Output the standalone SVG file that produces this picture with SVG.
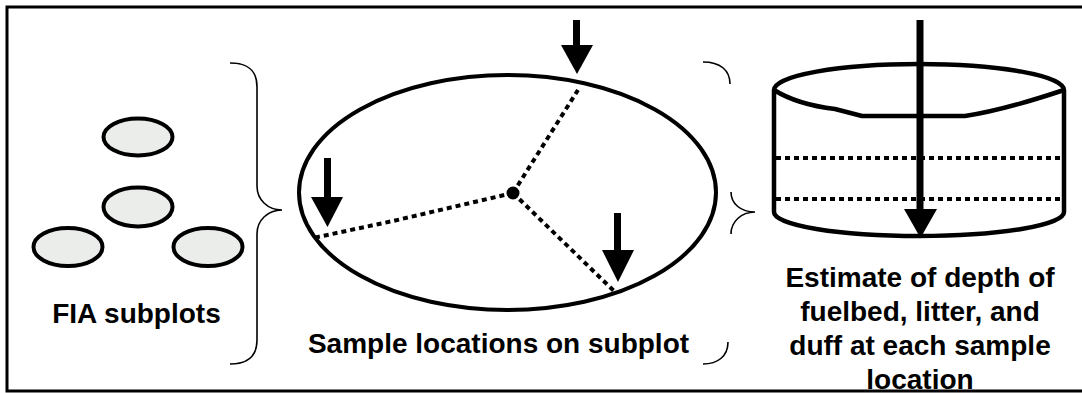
<svg xmlns="http://www.w3.org/2000/svg" width="1082" height="393" viewBox="0 0 1082 393">
<defs>
<style>
.frame{fill:none;stroke:#000;stroke-width:3}
.sub{fill:#EBEDEB;stroke:#000;stroke-width:4}
.big{fill:none;stroke:#000;stroke-width:4}
.dot{fill:none;stroke:#000;stroke-width:4;stroke-dasharray:5 4}
.brace{fill:none;stroke:#000;stroke-width:1.6}
.shaft{stroke:#000;stroke-width:7}
.head{fill:#000}
.cyl{fill:none;stroke:#000;stroke-width:4.5;stroke-linejoin:round}
.lbl{font-family:"Liberation Sans",Arial,Helvetica,sans-serif;font-weight:bold;font-size:28px;fill:#000;text-anchor:middle}
</style>
</defs>
<rect width="1082" height="393" fill="#fff"/>
<path class="frame" d="M1082,7 H7 V391 H1082"/>

<g id="fia-subplots">
<ellipse class="sub" cx="138" cy="137" rx="34.5" ry="18.5"/>
<ellipse class="sub" cx="138" cy="207" rx="34.5" ry="19.5"/>
<ellipse class="sub" cx="68" cy="247" rx="34.5" ry="19"/>
<ellipse class="sub" cx="208" cy="247" rx="34.5" ry="19"/>
<text class="lbl" x="136.5" y="323">FIA subplots</text>
</g>

<g id="sample-locations">
<ellipse class="big" cx="507.5" cy="192.5" rx="208.5" ry="117.5"/>
<path class="dot" d="M513,193 L578,90"/>
<path class="dot" d="M513,193 L393,221 L313,238"/>
<path class="dot" d="M513,193 L615,292"/>
<circle cx="513" cy="193" r="6.5" fill="#000"/>
<line class="shaft" x1="576.5" y1="20" x2="576.5" y2="48"/>
<polygon class="head" points="561,45 593,45 577,74"/>
<line class="shaft" x1="327.5" y1="158" x2="327.5" y2="200"/>
<polygon class="head" points="311,197 343,197 327.5,227"/>
<line class="shaft" x1="617.5" y1="213" x2="617.5" y2="252"/>
<polygon class="head" points="602,250 634,250 618,282"/>
<text class="lbl" x="498.5" y="353">Sample locations on subplot</text>
</g>

<g id="depth-estimate">
<path class="cyl" d="M774,90 A145,26 0 0 1 1064,90"/>
<path class="cyl" d="M774,90 C790,100 810,106 835,109 L862,116 L965,116 C992,112 1022,104 1064,90"/>
<path class="cyl" d="M774,90 V212 A145,24 0 0 0 1064,212 V90"/>
<line class="dot" x1="776" y1="158" x2="1062" y2="158"/>
<line class="dot" x1="776" y1="199" x2="1062" y2="199"/>
<line class="shaft" x1="920" y1="20" x2="920" y2="212"/>
<polygon class="head" points="904,209 937,209 920.5,238"/>
<text class="lbl" x="920" y="287">Estimate of depth of</text>
<text class="lbl" x="920" y="321">fuelbed, litter, and</text>
<text class="lbl" x="920" y="355">duff at each sample</text>
<text class="lbl" x="920" y="389">location</text>
</g>

<g id="connectors">
<path class="brace" d="M230,63 C248,63 257,70 257,87 L257,186 C257,200 268,210 282,210 C268,210 257,220 257,234 L257,340 C257,356 248,364 230,364"/>
<path class="brace" d="M703,62 C720,62 730,70 730,84"/>
<path class="brace" d="M731,192 C731,204 741,212 755,212 C741,212 731,222 731,234"/>
<path class="brace" d="M728,342 C728,356 718,364 703,364"/>
</g>
</svg>
